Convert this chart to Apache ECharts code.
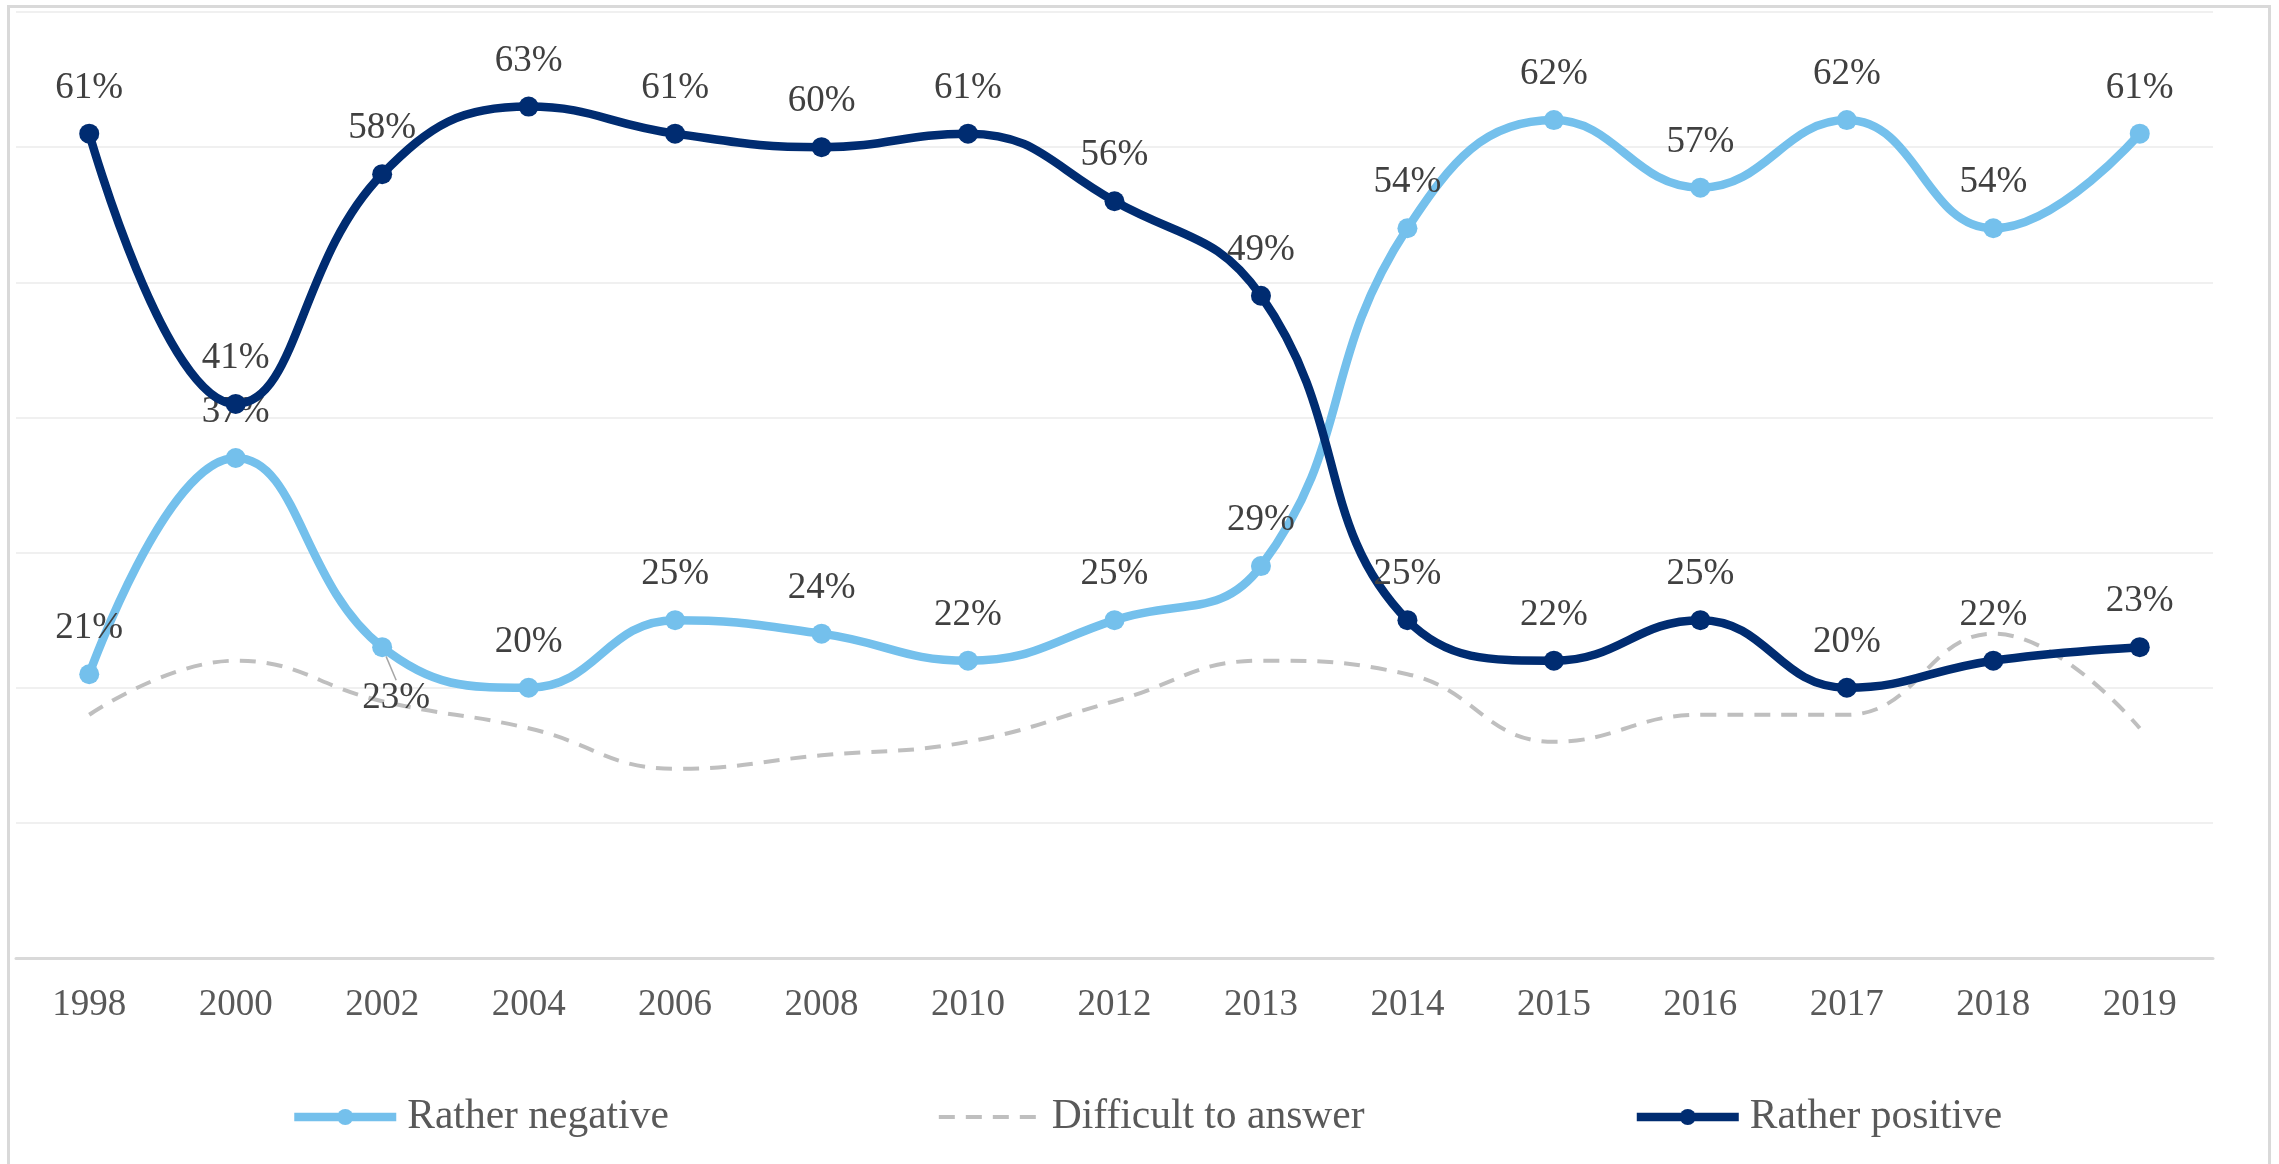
<!DOCTYPE html>
<html>
<head>
<meta charset="utf-8">
<script src="https://cdn.jsdelivr.net/npm/echarts@6/dist/echarts.min.js"></script>
<style>
html,body{margin:0;padding:0;background:#fff;}
#c{width:2279px;height:1164px;}
</style>
</head>
<body>
<div id="c"></div>
<script>
const years = ['1998','2000','2002','2004','2006','2008','2010','2012','2013','2014','2015','2016','2017','2018','2019'];
const ratherNegative = [21,37,23,20,25,24,22,25,29,54,62,57,62,54,61];
const difficult = [18,22,19,17,14,15,16,19,22,21,16,18,18,24,17];
const ratherPositive = [61,41,58,63,61,60,61,56,49,25,22,25,20,22,23];

const FONT = '"Liberation Serif", "Times New Roman", serif';
const labelStyle = {
  show: true, position: 'top', distance: 17,
  formatter: '{c}%', color: '#404040', fontSize: 37, fontFamily: FONT
};

const negData = ratherNegative.map((v, i) => i === 2
  ? {value: v, labelLine: {show: true, lineStyle: {color: '#a6a6a6', width: 1.5}}}
  : v);

const chart = echarts.init(document.getElementById('c'), null, {renderer: 'canvas'});
chart.setOption({
  backgroundColor: '#ffffff',
  animation: false,
  graphic: [{
    type: 'rect', left: 6, top: 4,
    shape: {width: 2261, height: 1180},
    style: {fill: 'none', stroke: '#d9d9d9', lineWidth: 3},
    silent: true
  }],
  grid: {left: 16, right: 66, top: 12, bottom: 206, containLabel: false},
  xAxis: {
    type: 'category', data: years, boundaryGap: true,
    axisLine: {show: true, lineStyle: {color: '#d9d9d9', width: 3}},
    axisTick: {show: false},
    axisLabel: {color: '#595959', fontSize: 37, fontFamily: FONT, margin: 29}
  },
  yAxis: {
    type: 'value', min: 0, max: 70, interval: 10,
    axisLabel: {show: false}, axisLine: {show: false}, axisTick: {show: false},
    splitLine: {show: true, lineStyle: {color: '#ebebeb', width: 1.5}}
  },
  legend: {
    bottom: 21, left: 285,
    itemWidth: 102, itemHeight: 20, itemGap: 268,
    lineStyle: {width: 'inherit'},
    textStyle: {color: '#595959', fontSize: 41.5, fontFamily: FONT, padding: [0, 0, 0, 6]},
    data: [
      'Rather negative',
      {name: 'Difficult to answer', itemStyle: {opacity: 0}},
      'Rather positive'
    ]
  },
  series: [
    {
      name: 'Rather negative', type: 'line', smooth: 0.45,
      data: negData,
      symbol: 'circle', symbolSize: 20,
      itemStyle: {color: '#74c0ec'},
      lineStyle: {color: '#74c0ec', width: 8.5},
      label: labelStyle,
      labelLayout: function (p) { return p.dataIndex === 2 ? {dx: 14, dy: 97} : {}; },
      z: 3
    },
    {
      name: 'Difficult to answer', type: 'line', smooth: 0.45,
      data: difficult,
      symbol: 'none',
      itemStyle: {color: '#bfbfbf'},
      lineStyle: {color: '#bfbfbf', width: 4, type: [16, 11]},
      z: 2
    },
    {
      name: 'Rather positive', type: 'line', smooth: 0.45,
      data: ratherPositive,
      symbol: 'circle', symbolSize: 20,
      itemStyle: {color: '#002c71'},
      lineStyle: {color: '#002c71', width: 8.5},
      label: labelStyle,
      z: 4
    }
  ]
});
</script>
</body>
</html>
